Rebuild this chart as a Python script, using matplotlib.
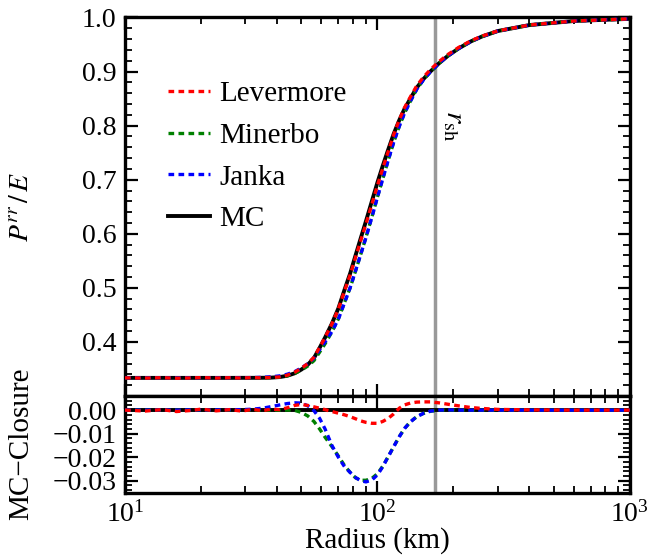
import matplotlib
matplotlib.use("Agg")
import matplotlib.pyplot as plt
import numpy as np
from matplotlib.ticker import MultipleLocator, FuncFormatter, LogLocator

plt.rcParams['font.family'] = 'serif'
plt.rcParams['font.serif'] = ['Liberation Serif', 'DejaVu Serif']
plt.rcParams['mathtext.fontset'] = 'stix'
plt.rcParams['font.size'] = 20

# radius grid (km)
radius = [10, 12, 14, 16, 18, 20, 23, 26, 29, 32, 35, 38, 41, 44, 47, 50, 53, 56,
          59, 62, 66, 70, 74, 78, 82, 86, 90, 95, 100, 105, 110, 116, 122, 128,
          135, 143, 152, 162, 175, 190, 210, 235, 260, 300, 400, 600, 1000]

# Monte Carlo P^rr/E
mc = [0.3335, 0.3335, 0.3335, 0.3335, 0.3335, 0.3335, 0.3335, 0.3335, 0.3336,
      0.3336, 0.3337, 0.3340, 0.3350, 0.3375, 0.3420, 0.3490, 0.3580, 0.3700,
      0.3890, 0.4080, 0.4340, 0.4620, 0.4960, 0.5270, 0.5610, 0.5930, 0.6230,
      0.6600, 0.6950, 0.7260, 0.7540, 0.7850, 0.8100, 0.8310, 0.8500, 0.8700,
      0.8860, 0.9000, 0.9150, 0.9290, 0.9430, 0.9560, 0.9650, 0.9750, 0.9860,
      0.9935, 0.9975]

# residuals MC - closure
d_levermore = [0.0000, -0.0004, 0.0002, -0.0006, -0.0002, 0.0004, -0.0003, 0.0002,
               -0.0004, 0.0003, -0.0002, 0.0004, 0.0002, 0.0010, 0.0020, 0.0024,
               0.0020, 0.0014, 0.0008, 0.0002, -0.0006, -0.0013, -0.0020, -0.0028,
               -0.0037, -0.0046, -0.0052, -0.0056, -0.0056, -0.0048, -0.0036,
               -0.0016, 0.0008, 0.0022, 0.0030, 0.0034, 0.0035, 0.0035, 0.0031,
               0.0025, 0.0018, 0.0011, 0.0007, 0.0003, 0.0001, 0.0000, 0.0000]
d_minerbo = [0.0000, 0.0000, 0.0000, 0.0000, 0.0000, 0.0000, 0.0000, 0.0000,
             0.0000, 0.0000, 0.0000, 0.0000, 0.0000, 0.0000, -0.0001, -0.0010,
             -0.0025, -0.0048, -0.0080, -0.0115, -0.0155, -0.0195, -0.0235,
             -0.0265, -0.0288, -0.0298, -0.0298, -0.0290, -0.0270, -0.0238,
             -0.0200, -0.0155, -0.0113, -0.0078, -0.0050, -0.0028, -0.0014,
             -0.0005, 0.0000, 0.0000, 0.0000, 0.0000, 0.0000, 0.0000, 0.0000,
             0.0000, 0.0000]
d_janka = [0.0000, 0.0000, 0.0001, 0.0000, 0.0001, 0.0001, 0.0001, 0.0002,
           0.0002, 0.0004, 0.0008, 0.0015, 0.0022, 0.0028, 0.0031, 0.0030,
           0.0018, -0.0002, -0.0035, -0.0080, -0.0150, -0.0200, -0.0240,
           -0.0265, -0.0287, -0.0300, -0.0305, -0.0297, -0.0275, -0.0240,
           -0.0200, -0.0155, -0.0113, -0.0078, -0.0050, -0.0028, -0.0014,
           -0.0004, 0.0000, 0.0001, 0.0000, 0.0000, 0.0000, 0.0000, 0.0000,
           0.0000, 0.0000]

r_shock = 169.0

r = np.array(radius)
mc = np.array(mc)
closures = [('Levermore', 'r', np.array(d_levermore), 5),
            ('Minerbo', 'g', np.array(d_minerbo), 3),
            ('Janka', 'b', np.array(d_janka), 4)]

dash = (0, (1.7, 1.3))

fig = plt.figure(figsize=(6.49, 5.55), dpi=100)
ax1 = fig.add_axes([0.1926, 0.2865, 0.778, 0.682])
ax2 = fig.add_axes([0.1926, 0.1126, 0.778, 0.1739], sharex=ax1)

for name, c, d, z in closures:
    ax1.plot(r, mc + d, color=c, ls=dash, lw=2.4, label=name, zorder=z)
ax1.plot(r, mc, color='k', lw=2.8, label='MC', zorder=2)
ax1.axvline(r_shock, color='#999999', lw=2.5, zorder=1)
ax1.text(200, 0.80, r'$r_{\rm sh}$', rotation=-90, ha='center', va='center',
         fontsize=21)

ax2.axhline(0.0, color='k', lw=2.8, zorder=2)
for name, c, d, z in closures:
    ax2.plot(r, d, color=c, ls=dash, lw=2.4, zorder=z)
ax2.axvline(r_shock, color='#999999', lw=2.5, zorder=1)

ax1.set_xscale('log')
ax1.set_xlim(10, 1000)
ax1.set_ylim(0.3, 1.0)
ax1.set_yticks([0.4, 0.5, 0.6, 0.7, 0.8, 0.9, 1.0])
ax1.yaxis.set_minor_locator(MultipleLocator(0.02))
ax1.yaxis.set_major_formatter(FuncFormatter(lambda v, p: f'{v:.1f}'))
ax1.tick_params(labelbottom=False)

ax2.set_ylim(-0.035, 0.006)
ax2.set_yticks([0.0, -0.01, -0.02, -0.03])
ax2.yaxis.set_minor_locator(MultipleLocator(0.002))
ax2.yaxis.set_major_formatter(
    FuncFormatter(lambda v, p: f'{v:.2f}'.replace('-0.00', '0.00').replace('-', '\u2212')))
ax2.xaxis.set_minor_locator(LogLocator(base=10, subs=np.arange(2, 10)))

for ax in (ax1, ax2):
    for s in ax.spines.values():
        s.set_linewidth(2.4)
    ax.tick_params(which='both', direction='in', top=True, right=True)
    ax.tick_params(which='major', length=9, width=1.6, pad=6)
    ax.tick_params(which='minor', length=5, width=1.3)

ax1.set_ylabel(r'$P^{rr}\,/\,E$')
ax2.set_ylabel('MC\u2212Closure', fontsize=21)
ax1.yaxis.set_label_coords(-0.18, 0.5)
ax2.yaxis.set_label_coords(-0.18, 0.5)
ax2.set_xlabel('Radius (km)', labelpad=0, fontsize=21)

ax1.legend(loc='upper left', bbox_to_anchor=(0.085, 0.832), frameon=False,
           borderaxespad=0, borderpad=0, handlelength=1.45, handletextpad=0.3,
           labelspacing=0.52, fontsize=21)

fig.savefig('out.png', dpi=100)
